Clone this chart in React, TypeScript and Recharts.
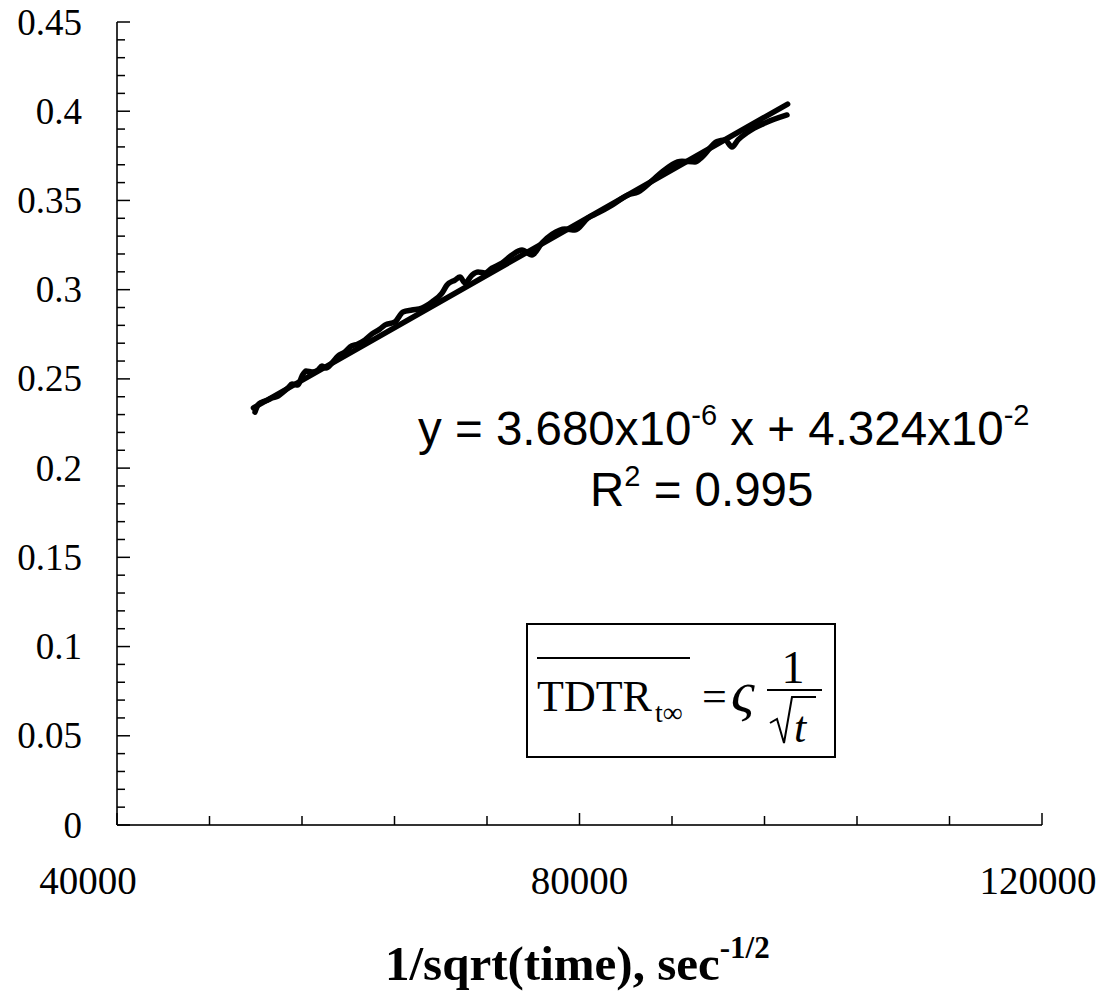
import React from 'react';
import { ComposedChart, Line, XAxis, YAxis } from 'recharts';

// measured series: 1/sqrt(time) vs TDTR
const measX = [
  51935, 52195, 52540, 53059, 53405, 53924, 54270, 54789, 55135, 55654,
  56000, 56346, 56865, 57384, 57730, 58076, 58595, 59113, 59719, 60151,
  60843, 61449, 62054, 62746, 63178, 64043, 64735, 65513, 66378, 67243,
  68108, 68540, 69232, 69665, 70097, 70703, 71222, 71827, 72432, 73297,
  74162, 75027, 75892, 76757, 77622, 78746, 79611, 80735, 81600, 82811,
  84195, 85059, 86357, 87135, 88865, 89989, 90594, 91892, 92584, 93189,
  93708, 94573, 96043, 97946,
];
const measY = [
  0.2314, 0.2354, 0.2370, 0.2382, 0.2393, 0.2404, 0.2421, 0.2449, 0.2471, 0.2466,
  0.2516, 0.2544, 0.2539, 0.2550, 0.2572, 0.2561, 0.2589, 0.2628, 0.2651, 0.2679,
  0.2696, 0.2718, 0.2752, 0.2780, 0.2802, 0.2819, 0.2875, 0.2886, 0.2897, 0.2931,
  0.2981, 0.3026, 0.3054, 0.3071, 0.3037, 0.3082, 0.3099, 0.3093, 0.3121, 0.3149,
  0.3194, 0.3222, 0.3194, 0.3262, 0.3310, 0.3340, 0.3334, 0.3402, 0.3430, 0.3474,
  0.3531, 0.3547, 0.3615, 0.3660, 0.3720, 0.3715, 0.3743, 0.3830, 0.3839, 0.3799,
  0.3839, 0.3884, 0.3934, 0.3979,
];

// linear fit line end points
const fitX = [51800, 98000];
const fitY = [0.2337, 0.404];

const xMajorTicks = [40000, 80000, 120000];
const xMinorTicks = [48000, 56000, 64000, 72000, 88000, 96000, 104000, 112000];
const yMajorTicks = [0, 0.05, 0.1, 0.15, 0.2, 0.25, 0.3, 0.35, 0.4, 0.45];
const yMinorTicks = [
  0.01, 0.02, 0.03, 0.04, 0.06, 0.07, 0.08, 0.09, 0.11, 0.12, 0.13, 0.14,
  0.16, 0.17, 0.18, 0.19, 0.21, 0.22, 0.23, 0.24, 0.26, 0.27, 0.28, 0.29,
  0.31, 0.32, 0.33, 0.34, 0.36, 0.37, 0.38, 0.39, 0.41, 0.42, 0.43, 0.44,
];
const xTickLabels = ['40000', '80000', '120000'];
const yTickLabels = ['0', '0.05', '0.1', '0.15', '0.2', '0.25', '0.3', '0.35', '0.4', '0.45'];

const measData = measX.map((x, i) => ({ x, y: measY[i] }));
const fitData = fitX.map((x, i) => ({ x, y: fitY[i] }));
const allXTicks = [...xMajorTicks, ...xMinorTicks].sort((a, b) => a - b);
const allYTicks = [...yMajorTicks, ...yMinorTicks].sort((a, b) => a - b);

const SERIF = '"Liberation Serif", "Times New Roman", serif';
const SANS = '"Liberation Sans", Arial, sans-serif';

const YTick = (props: any) => {
  const { x, y, payload } = props;
  const idx = yMajorTicks.indexOf(payload.value);
  const major = idx >= 0;
  return (
    <g>
      <line x1={x} x2={x + (major ? 13 : 8)} y1={y} y2={y} stroke="#000" strokeWidth={1.5} />
      {major && (
        <text x={x - 35} y={y} dy="0.34em" textAnchor="end" fontFamily={SERIF} fontSize={37} fill="#000">
          {yTickLabels[idx]}
        </text>
      )}
    </g>
  );
};

const XTick = (props: any) => {
  const { x, y, payload } = props;
  const idx = xMajorTicks.indexOf(payload.value);
  const major = idx >= 0;
  const dx = idx === 0 ? -29 : idx === 2 ? -4 : 0;
  return (
    <g>
      <line x1={x} x2={x} y1={y} y2={y - (major ? 12 : 9)} stroke="#000" strokeWidth={1.5} />
      {major && (
        <text x={x + dx} y={y + 56} dy="0.34em" textAnchor="middle" fontFamily={SERIF} fontSize={39} fill="#000">
          {xTickLabels[idx]}
        </text>
      )}
    </g>
  );
};

export default function App() {
  return (
    <div style={{ position: 'absolute', left: 0, top: 0, width: 1102, height: 994, background: '#fff' }}>
      <ComposedChart width={1102} height={994} margin={{ top: 22, right: 60, bottom: 0, left: 0 }}>
        <XAxis
          dataKey="x"
          type="number"
          domain={[40000, 120000]}
          ticks={allXTicks}
          interval={0}
          allowDataOverflow
          height={169}
          tickSize={0}
          tickMargin={0}
          tickLine={false}
          tick={<XTick />}
          axisLine={{ stroke: '#333', strokeWidth: 2 }}
        />
        <YAxis
          type="number"
          domain={[0, 0.45]}
          ticks={allYTicks}
          interval={0}
          allowDataOverflow
          width={117}
          tickSize={0}
          tickMargin={0}
          tickLine={false}
          tick={<YTick />}
          axisLine={{ stroke: '#333', strokeWidth: 2 }}
        />
        <Line
          data={fitData}
          dataKey="y"
          type="linear"
          stroke="#000"
          strokeWidth={5.5}
          strokeLinecap="round"
          dot={false}
          isAnimationActive={false}
        />
        <Line
          data={measData}
          dataKey="y"
          type="monotone"
          stroke="#000"
          strokeWidth={5.5}
          strokeLinecap="round"
          strokeLinejoin="round"
          dot={false}
          isAnimationActive={false}
        />
      </ComposedChart>
      <svg
        width={1102}
        height={994}
        style={{ position: 'absolute', left: 0, top: 0, pointerEvents: 'none' }}
      >
        <text x={418} y={445} fontFamily={SANS} fontSize={47.5} fill="#000">
          y = 3.680x10
          <tspan fontSize={29} dy={-20}>-6</tspan>
          <tspan dy={20}> x + 4.324x10</tspan>
          <tspan fontSize={29} dy={-20}>-2</tspan>
        </text>
        <text x={590} y={506} fontFamily={SANS} fontSize={47.5} fill="#000">
          R<tspan fontSize={29} dy={-20}>2</tspan>
          <tspan dy={20}> = 0.995</tspan>
        </text>

        <rect x={527} y={624} width={308} height={133} fill="none" stroke="#000" strokeWidth={2} />
        <line x1={537} x2={690} y1={658} y2={658} stroke="#000" strokeWidth={2} />
        <text x={537} y={711} fontFamily={SERIF} fontSize={44} fill="#000">TDTR</text>
        <text x={655} y={722} fontFamily={SERIF} fontSize={28} fill="#000">t∞</text>
        <text x={702} y={711} fontFamily={SERIF} fontSize={44} fill="#000">=</text>
        <text x={731} y={711} fontFamily={SERIF} fontSize={58} fontStyle="italic" fill="#000">ς</text>
        <text x={793} y={683} fontFamily={SERIF} fontSize={46} textAnchor="middle" fill="#000">1</text>
        <line x1={767} x2={822} y1={690} y2={690} stroke="#000" strokeWidth={2} />
        <path
          d="M770 723 L777 719 L784 743 L792 697 L816 697"
          fill="none"
          stroke="#000"
          strokeWidth={2}
        />
        <text x={794} y={742} fontFamily={SERIF} fontSize={44} fontStyle="italic" fill="#000">t</text>

        <text x={385} y={980} fontFamily={SERIF} fontSize={49} fontWeight="bold" fill="#000">
          1/sqrt(time), sec
          <tspan fontSize={31} dy={-22}>-1/2</tspan>
        </text>
      </svg>
    </div>
  );
}
